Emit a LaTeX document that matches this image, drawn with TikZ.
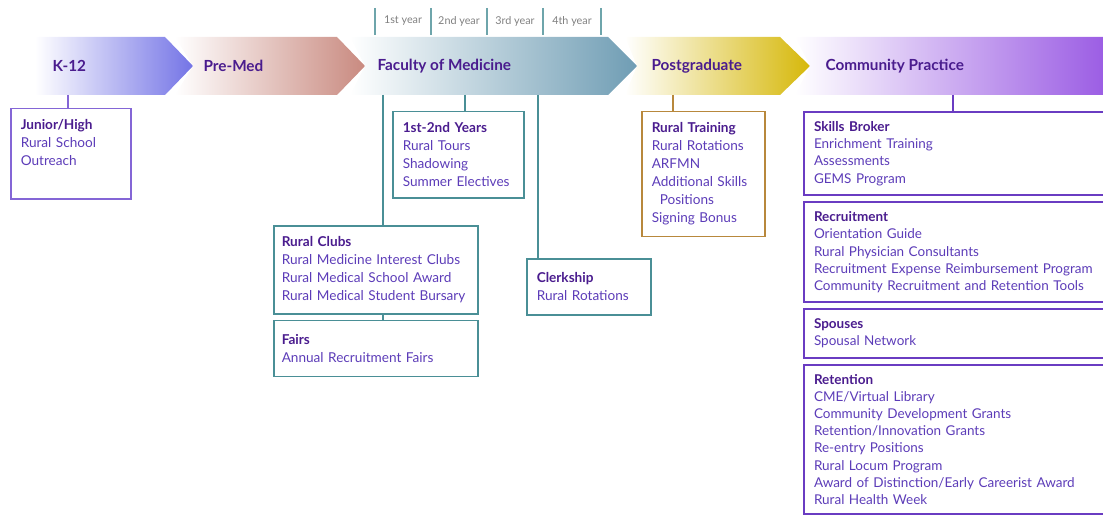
\documentclass[tikz,border=0pt]{standalone}
\usepackage{fontspec}
\setmainfont{Lato}
\usetikzlibrary{positioning}
\definecolor{k12col}{HTML}{7474E6}
\definecolor{medcol}{HTML}{C98A80}
\definecolor{faccol}{HTML}{6F9DB4}
\definecolor{pgcol}{HTML}{D6B80A}
\definecolor{comcol}{HTML}{9C5EE4}
\definecolor{headcol}{HTML}{4A1C8E}
\definecolor{itemcol}{HTML}{5C3CB8}
\definecolor{tealcol}{HTML}{4A8F96}
\definecolor{browncol}{HTML}{B8883C}
\definecolor{purpcol}{HTML}{6A3CC2}
\definecolor{jhcol}{HTML}{8466D6}
\tikzset{
  stage/.style={anchor=west, text=headcol, font=\fontsize{15.3}{17}\selectfont\bfseries},
  infobox/.style={draw, anchor=north west, align=left, inner xsep=10pt, inner ysep=11pt,
    line width=1.5pt, text=itemcol, font=\fontsize{13.6}{18}\selectfont},
  combox/.style={infobox, draw=purpcol, line width=2pt, inner ysep=9.5pt, text width=280pt,
    font=\fontsize{13.5}{17.2}\selectfont},
  yearlbl/.style={text=gray, font=\fontsize{10.8}{12}\selectfont},
}
\newcommand\boxhead[1]{{\color{headcol}\bfseries #1}}

\begin{document}
\begin{tikzpicture}[x=1pt,y=-1pt]
    \useasboundingbox (0,0) rectangle (1103,516);

    % stages
    \shade[left color=white, right color=k12col] (35,37) -- (165,37) -- (193,66) -- (165,95) -- (35,95) -- cycle;
    \shade[left color=white, right color=medcol] (175,37) -- (337,37) -- (365,66) -- (337,95) -- (175,95) -- (193,66) -- cycle;
    \shade[left color=white, right color=faccol] (350,37) -- (608,37) -- (637,66) -- (608,95) -- (350,95) -- (365,66) -- cycle;
    \shade[left color=white, right color=pgcol] (625,37) -- (780,37) -- (810,66) -- (780,95) -- (625,95) -- (637,66) -- cycle;
    \shade[left color=white, right color=comcol] (795,37) -- (1103,37) -- (1103,95) -- (795,95) -- (810,66) -- cycle;

    \node[stage] (k12) at (49,66) {K-12};
    \node[stage] (premed) at (200,66) {Pre-Med};
    \node[stage] (faculty) at (374,66) {Faculty of Medicine};
    \node[stage] (postgrad) at (648,66) {Postgraduate};
    \node[stage] (community) at (822,66) {Community Practice};

    % years
    \foreach \x in {375,431,487,543,601}
        \draw[tealcol!80, line width=1.2pt] (\x,8) -- (\x,35);
    \node[yearlbl] (y1) at (403,21) {1st year};
    \node[yearlbl] (y2) at (459,21) {2nd year};
    \node[yearlbl] (y3) at (515,21) {3rd year};
    \node[yearlbl] (y4) at (572,21) {4th year};

    % boxes
    \node[infobox, draw=jhcol, text width=100pt, text depth=58pt] (junior) at (10,108)
        {\boxhead{Junior/High}\\Rural School\\Outreach};
    \node[infobox, draw=tealcol, text width=111pt] (years) at (392,111)
        {\boxhead{1st-2nd Years}\\Rural Tours\\Shadowing\\Summer Electives};
    \node[infobox, draw=tealcol, inner xsep=8pt, text width=188pt] (clubs) at (273,225)
        {\boxhead{Rural Clubs}\\Rural Medicine Interest Clubs\\Rural Medical School Award\\Rural Medical Student Bursary};
    \node[infobox, draw=tealcol, inner xsep=8pt, text width=188pt, minimum height=56pt,
        below=5pt of clubs.south west, anchor=north west] (fairs)
        {\boxhead{Fairs}\\Annual Recruitment Fairs};
    \node[infobox, draw=tealcol, text width=104pt, minimum height=56pt] (clerk) at (526,258)
        {\boxhead{Clerkship}\\Rural Rotations};
    \node[infobox, draw=browncol, text width=103pt] (training) at (641,111)
        {\boxhead{Rural Training}\\Rural Rotations\\ARFMN\\Additional Skills\\\hspace*{8pt}Positions\\Signing Bonus};
    \node[combox] (skills) at (803,111)
        {\boxhead{Skills Broker}\\Enrichment Training\\Assessments\\GEMS Program};
    \node[combox, below=5pt of skills.south west, anchor=north west] (recruit)
        {\boxhead{Recruitment}\\Orientation Guide\\Rural Physician Consultants\\Recruitment Expense Reimbursement Program\\Community Recruitment and Retention Tools};
    \node[combox, below=5pt of recruit.south west, anchor=north west] (spouses)
        {\boxhead{Spouses}\\Spousal Network};
    \node[combox, below=5pt of spouses.south west, anchor=north west] (retain)
        {\boxhead{Retention}\\CME/Virtual Library\\Community Development Grants\\Retention/Innovation Grants\\Re-entry Positions\\Rural Locum Program\\Award of Distinction/Early Careerist Award\\Rural Health Week};

    % links
    \coordinate (k12b) at (68,95);
    \coordinate (facb) at (383,95);
    \coordinate (facy) at (465,95);
    \coordinate (facc) at (538,95);
    \coordinate (pgb) at (673,95);
    \coordinate (comb) at (953,95);
    \draw[jhcol, line width=1.2pt] (k12b) -- (k12b |- junior.north);
    \draw[tealcol, line width=1.5pt] (facy) -- (facy |- years.north);
    \draw[tealcol, line width=1.5pt] (facb) -- (facb |- clubs.north);
    \draw[tealcol, line width=1.5pt] (clubs.south -| facb) -- (fairs.north -| facb);
    \draw[tealcol, line width=1.5pt] (facc) -- (facc |- clerk.north);
    \draw[browncol, line width=1.5pt] (pgb) -- (pgb |- training.north);
    \draw[purpcol, line width=1.5pt] (comb) -- (comb |- skills.north);
\end{tikzpicture}
\end{document}
